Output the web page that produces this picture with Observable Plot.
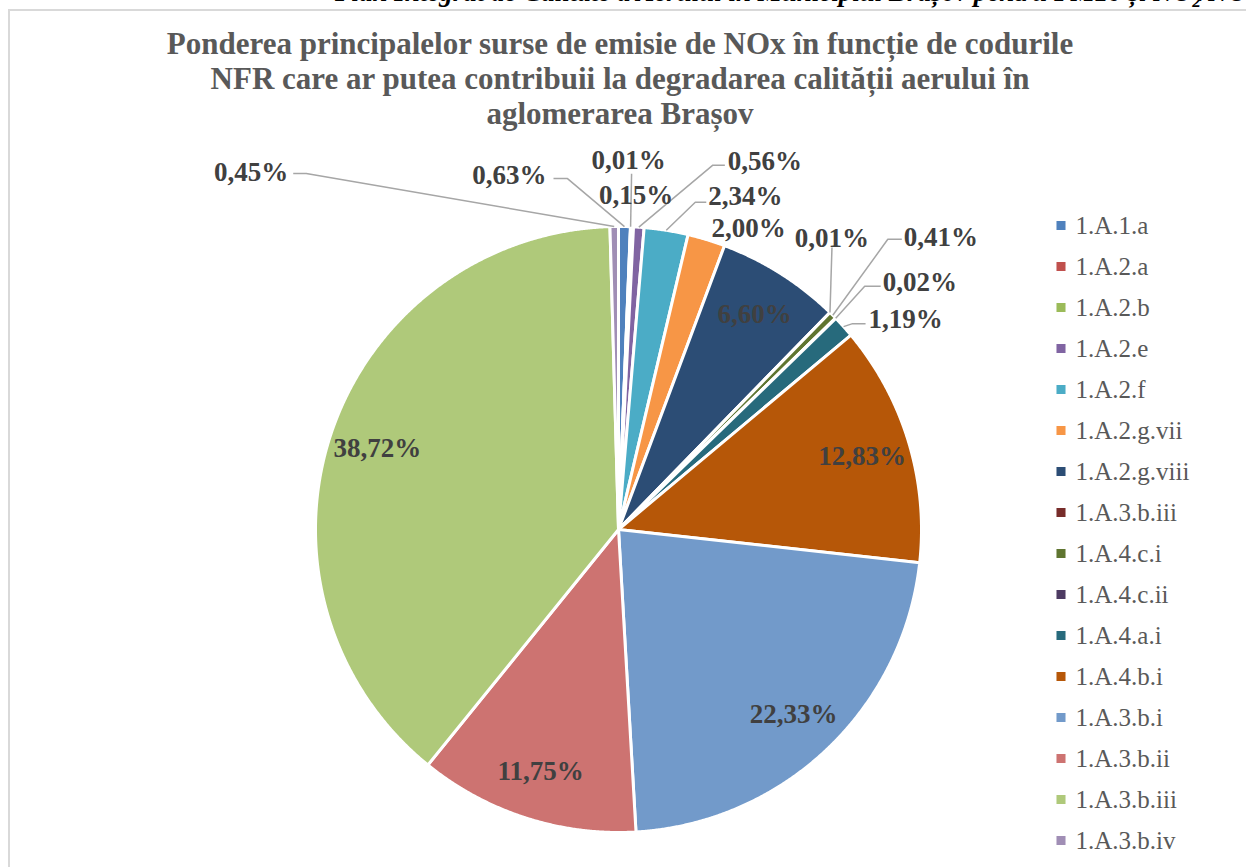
<!DOCTYPE html>
<html>
<head>
<meta charset="utf-8">
<script src="https://cdn.jsdelivr.net/npm/d3@7"></script>
<script src="https://cdn.jsdelivr.net/npm/@observablehq/plot@0.6"></script>
<style>
  body { margin: 0; background: #fff; }
  #page { position: relative; width: 1246px; height: 867px; overflow: hidden; background: #fff; }
  #header { position: absolute; left: 335px; top: -23px; white-space: nowrap; font: italic bold 27px "Liberation Serif", serif; color: #000; }
  #frame { position: absolute; left: 8px; top: 9px; width: 1400px; height: 1000px; border: 2px solid #d9d9d9; }
  #pie { position: absolute; left: 0; top: 0; }
  #legend { position: absolute; left: 1040px; top: 0; }
  #title { position: absolute; left: 0; top: 26px; width: 1240px; text-align: center; font: bold 31px/35px "Liberation Serif", serif; color: #595959; }
</style>
</head>
<body>
<div id="page">
  <div id="header">Plan Integrat de Calitate a Aerului în Municipiul Brașov pentru PM10 și NO<sub style="font-size:17px">2</sub>/NO<sub style="font-size:17px">x</sub></div>
  <div id="frame"></div>
  <div id="pie"></div>
  <div id="legend"></div>
  <div id="title">Ponderea principalelor surse de emisie de NOx în funcție de codurile<br>NFR care ar putea contribuii la degradarea calității aerului în<br>aglomerarea Brașov</div>
</div>
<script>
// ---- data ----
const codes = ["1.A.1.a","1.A.2.a","1.A.2.b","1.A.2.e","1.A.2.f","1.A.2.g.vii","1.A.2.g.viii","1.A.3.b.iii","1.A.4.c.i","1.A.4.c.ii","1.A.4.a.i","1.A.4.b.i","1.A.3.b.i","1.A.3.b.ii","1.A.3.b.iii","1.A.3.b.iv"];
const shares = [0.63, 0.01, 0.15, 0.56, 2.34, 2.00, 6.60, 0.01, 0.41, 0.02, 1.19, 12.83, 22.33, 11.75, 38.72, 0.45];
const colors = ["#4F81BD","#C0504D","#9BBB59","#8064A2","#4BACC6","#F79646","#2C4D75","#772C2A","#5F7530","#4D3B62","#276A7C","#B65708","#729ACA","#CD7371","#AFC97A","#A08EB5"];
const insideLabels = [6, 11, 12, 13, 14];

// ---- layout ----
const R = 303, CX = 618, CY = 529;
const fmt = v => v.toFixed(2).replace(".", ",") + "%";
// callout offsets (pixels) from the slice's outer edge at its mid-angle
const callouts = [
  {i: 15, at: [-326, -54], anchor: "end",    leader: [[-308, -53], [-321, -53]]},
  {i: 0,  at: [-78, -51],  anchor: "end",    leader: [[-57, -48], [-71, -48]]},
  {i: 1,  at: [-2, -66],   anchor: "middle", leader: [[1, -53]]},
  {i: 2,  at: [4, -31],    anchor: "middle", leader: null},
  {i: 3,  at: [89, -66],   anchor: "start",  leader: [[74, -62], [86, -62]]},
  {i: 4,  at: [42, -34],   anchor: "start",  leader: [[29, -28], [40, -28]]},
  {i: 5,  at: [42, -11],   anchor: "middle", leader: null},
  {i: 7,  at: [2, -74],    anchor: "middle", leader: [[2, -65]]},
  {i: 8,  at: [71, -78],   anchor: "start",  leader: [[55, -76], [69, -76]]},
  {i: 9,  at: [47, -36],   anchor: "start",  leader: [[29, -32], [45, -32]]},
  {i: 10, at: [25, -7],    anchor: "start",  leader: [[9, -3], [22, -3]]}
];

const total = d3.sum(shares);
let acc = 0;
const slices = shares.map((v, i) => {
  const a0 = acc / total * 2 * Math.PI; acc += v;
  const a1 = acc / total * 2 * Math.PI;
  return {i, v, a0, a1, mid: (a0 + a1) / 2};
});
const piePts = slices.flatMap(s => {
  const n = Math.max(2, Math.ceil((s.a1 - s.a0) / 0.004));
  const pts = [{i: s.i, x: 0, y: 0}];
  for (let k = 0; k <= n; k++) {
    const a = s.a0 + (s.a1 - s.a0) * k / n;
    pts.push({i: s.i, x: Math.sin(a), y: -Math.cos(a)});
  }
  return pts;
});
const edge = i => [Math.sin(slices[i].mid), -Math.cos(slices[i].mid)];

const inside = insideLabels.map(i => ({
  x: 0.84 * Math.sin(slices[i].mid), y: -0.84 * Math.cos(slices[i].mid), text: fmt(shares[i])
}));
const outside = callouts.map(c => {
  const [ex, ey] = edge(c.i);
  return {x: ex + c.at[0] / R, y: ey + c.at[1] / R, text: fmt(shares[c.i]), anchor: c.anchor};
});
const leaders = callouts.filter(c => c.leader).flatMap(c => {
  const [ex, ey] = edge(c.i);
  return [{i: c.i, x: ex, y: ey}, ...c.leader.map(([dx, dy]) => ({i: c.i, x: ex + dx / R, y: ey + dy / R}))];
});

const labelFont = {fontSize: 27, fontWeight: "bold", fontFamily: "Liberation Serif, serif", fill: "#404040"};

const pie = Plot.plot({
  width: 1040, height: 867,
  marginTop: 0, marginRight: 0, marginBottom: 0, marginLeft: 0,
  style: {background: "none", overflow: "visible"},
  x: {domain: [-1, 1], range: [CX - R, CX + R], axis: null},
  y: {domain: [-1, 1], range: [CY - R, CY + R], axis: null},
  color: {type: "identity"},
  marks: [
    Plot.line(piePts, {x: "x", y: "y", z: "i", fill: d => colors[d.i], stroke: "white", strokeWidth: 3, strokeLinejoin: "round", curve: "linear-closed"}),
    Plot.line(leaders, {x: "x", y: "y", z: "i", stroke: "#a6a6a6", strokeWidth: 1.5, strokeLinejoin: "miter", strokeLinecap: "butt"}),
    Plot.text(inside, {x: "x", y: "y", text: "text", ...labelFont}),
    ...["start", "middle", "end"].map(a =>
      Plot.text(outside.filter(d => d.anchor === a), {x: "x", y: "y", text: "text", textAnchor: a, ...labelFont}))
  ]
});
document.getElementById("pie").appendChild(pie);

const idx = d3.range(codes.length);
const legend = Plot.plot({
  width: 206, height: 867,
  marginTop: 0, marginRight: 0, marginBottom: 0, marginLeft: 0,
  style: {background: "none", overflow: "visible"},
  y: {type: "point", domain: idx, range: [225, 840], padding: 0, axis: null},
  color: {type: "identity"},
  marks: [
    Plot.dot(idx, {y: d => d, frameAnchor: "left", dx: 20.5, symbol: "square", r: 5.1, fill: d => colors[d], stroke: null}),
    Plot.text(idx, {y: d => d, frameAnchor: "left", dx: 35, textAnchor: "start", text: d => codes[d], fontSize: 25, fontFamily: "Liberation Serif, serif", fill: "#595959"})
  ]
});
document.getElementById("legend").appendChild(legend);
</script>
</body>
</html>
